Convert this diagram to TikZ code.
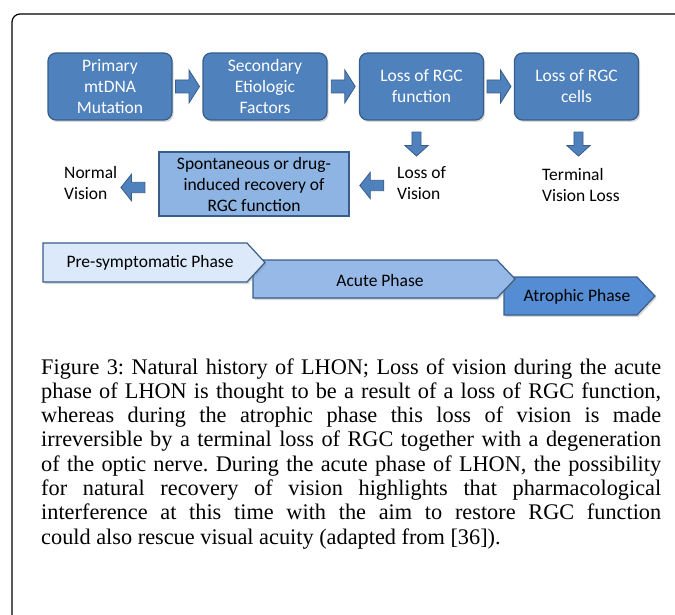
\documentclass[tikz,border=0pt]{standalone}
\usepackage{fontspec}
\setmainfont{Liberation Serif}
\newfontfamily\calib{Carlito}
\usetikzlibrary{shadows,calc}

\definecolor{boxblue}{RGB}{79,129,189}
\definecolor{boxedge}{RGB}{56,93,138}
\definecolor{recblue}{RGB}{141,180,226}
\definecolor{prefill}{RGB}{219,233,250}
\definecolor{acufill}{RGB}{150,185,232}
\definecolor{atrfill}{RGB}{84,141,212}

\begin{document}
\begin{tikzpicture}[x=1pt,y=-1pt,
  stage/.style={draw=boxedge,line width=1.2pt,fill=boxblue,rounded corners=8pt,
    minimum width=124pt,minimum height=67pt,text=white,align=center,inner sep=0pt,
    font=\calib\fontsize{17.5}{21}\selectfont,
    drop shadow={opacity=0.3,shadow xshift=1.5pt,shadow yshift=-2pt}},
  fat/.pic={\draw[draw=boxedge,line width=0.8pt,fill=boxblue]
    (-12,-6.5) -- (1.5,-6.5) -- (1.5,-16.5) -- (12,0) -- (1.5,16.5) -- (1.5,6.5) -- (-12,6.5) -- cycle;},
  lbl/.style={align=left,inner sep=0pt,font=\calib\fontsize{17.5}{21}\selectfont},
  phase/.style={draw=boxedge,line width=1.2pt,
    drop shadow={opacity=0.3,shadow xshift=1.5pt,shadow yshift=-2pt}},
  phasetxt/.style={inner sep=0pt,font=\calib\fontsize{17.5}{21}\selectfont}]

\useasboundingbox (0,0) rectangle (675,615);

% frame
\draw[line width=1.2pt,rounded corners=8pt] (12,640) -- (12,14) -- (700,14);

% top row
\node[stage] (mut) at (110,86.5) {Primary\\mtDNA\\Mutation};
\node[stage] (sec) at (265,86.5) {Secondary\\Etiologic\\Factors};
\node[stage] (fn) at (421.5,86.5) {Loss of RGC\\function};
\node[stage] (cells) at (576.5,86.5) {Loss of RGC\\cells};

\pic (a1) at ($(mut.east)!0.5!(sec.west)$) {fat};
\pic (a2) at ($(sec.east)!0.5!(fn.west)$) {fat};
\pic (a3) at ($(fn.east)!0.5!(cells.west)$) {fat};

\pic[rotate=-90,yscale=0.7] (d1) at ($(fn.south)+(-5,23.5)$) {fat};
\pic[rotate=-90,yscale=0.7] (d2) at ($(cells.south)+(2,23.5)$) {fat};

% second row
\node[lbl,anchor=west] (lossv) at (397,183) {Loss of\\Vision};
\node[lbl,anchor=west] (term) at (542,185) {Terminal\\Vision Loss};
\node[lbl,anchor=west] (normal) at (64,183) {Normal\\Vision};
\node[draw=boxedge,fill=recblue,line width=1.2pt,minimum width=190pt,minimum height=64pt,
  align=center,inner sep=0pt,font=\calib\fontsize{17.5}{21}\selectfont]
  (rec) at (254,184) {Spontaneous or drug-\\induced recovery of\\RGC function};

\pic[rotate=180,yscale=0.8] (l1) at ($(rec.east)!0.5!(lossv.west)+(-1.5,2)$) {fat};
\pic[rotate=180,yscale=0.8] (l2) at ($(normal.east)!0.5!(rec.west)+(-5,4)$) {fat};

% phases
\draw[phase,fill=atrfill] (504,277) -- (637,277) -- (655,296) -- (637,315) -- (504,315) -- cycle;
\node[phasetxt] (atr) at (577,297) {Atrophic Phase};
\draw[phase,fill=acufill] (253,260) -- (497,260) -- (515,279) -- (497,298) -- (253,298) -- cycle;
\node[phasetxt] (acu) at (380,280) {Acute Phase};
\draw[phase,fill=prefill] (43,243) -- (247,243) -- (265,262.5) -- (247,282) -- (43,282) -- cycle;
\node[phasetxt] (pre) at (150,262.5) {Pre-symptomatic Phase};

% caption
\node[anchor=base west,inner sep=0pt] (cap) at (41,374) {\parbox[t]{620pt}{\fontsize{22.3}{24.3}\selectfont\frenchspacing
\makebox[\linewidth][s]{Figure 3: Natural history of LHON; Loss of vision during the acute}\par
\makebox[\linewidth][s]{phase of LHON is thought to be a result of a loss of RGC function,}\par
\makebox[\linewidth][s]{whereas during the atrophic phase this loss of vision is made}\par
\makebox[\linewidth][s]{irreversible by a terminal loss of RGC together with a degeneration}\par
\makebox[\linewidth][s]{of the optic nerve. During the acute phase of LHON, the possibility}\par
\makebox[\linewidth][s]{for natural recovery of vision highlights that pharmacological}\par
\makebox[\linewidth][s]{interference at this time with the aim to restore RGC function}\par
could also rescue visual acuity (adapted from [36]).}};
\end{tikzpicture}
\end{document}
